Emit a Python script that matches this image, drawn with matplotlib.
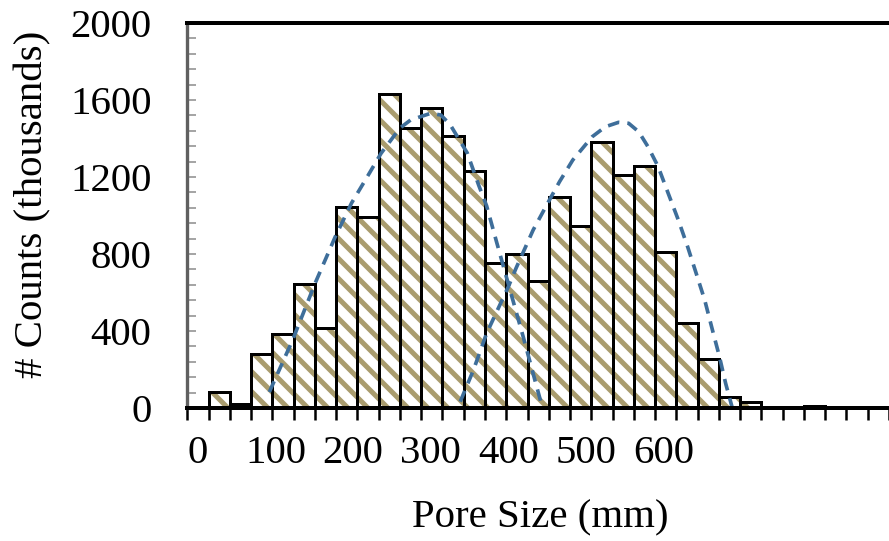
import numpy as np
import matplotlib
matplotlib.use('Agg')
import matplotlib.pyplot as plt
from matplotlib.ticker import MultipleLocator

plt.rcParams['font.family'] = ['Liberation Serif', 'DejaVu Serif']
plt.rcParams['hatch.linewidth'] = 3.0

# histogram: bin centres (pore size) and counts in thousands
bin_width = 27.4
pore_size = np.arange(33) * bin_width
counts = [0, 85, 20, 281, 384, 643, 414, 1046, 994, 1630,
          1453, 1560, 1413, 1231, 755, 800, 660, 1098, 947, 1380,
          1210, 1259, 812, 440, 256, 59, 30, 0, 0, 10,
          0, 0, 0]

# the two fitted curves
fit1_x = [92, 122, 151, 177, 198, 217, 236, 260, 274, 300,
          313, 325, 347, 362, 372, 385, 402, 419, 434, 444]
fit1_y = [83, 353, 648, 890, 1065, 1193, 1323, 1453, 1496, 1531,
          1522, 1472, 1325, 1155, 1050, 860, 615, 372, 148, 0]

fit2_x = [338, 355, 372, 400, 410, 432, 453, 466, 483, 508, 525, 542, 555,
          568, 580, 593, 606, 619, 631, 642, 653, 663, 672, 680, 691]
fit2_y = [33, 197, 388, 630, 727, 925, 1081, 1176, 1288, 1409, 1461, 1484, 1479,
          1435, 1357, 1254, 1115, 977, 838, 700, 561, 405, 267, 128, -36]

x_labels = [0, 100, 200, 300, 400, 500, 600]

tan = '#A99C6E'
blue = '#3E6E9A'

W, H, DPI = 889, 541, 120
fig = plt.figure(figsize=(W / DPI, H / DPI), dpi=DPI)
ax = fig.add_axes([187.3 / W, 133 / H, (W - 187.3) / W, 385 / H])

# hatched fill, then black outlines on top
ax.bar(pore_size, counts, width=bin_width, color='white', edgecolor=tan,
       hatch='\\\\', linewidth=0, zorder=1)
ax.bar(pore_size, counts, width=bin_width, fill=False, edgecolor='black',
       linewidth=1.8, zorder=1.5)

ax.plot(fit1_x, fit1_y, color=blue, lw=2.2, ls=(0, (3.2, 2.2)), zorder=2, clip_on=False)
ax.plot(fit2_x, fit2_y, color=blue, lw=2.2, ls=(0, (3.2, 2.2)), zorder=2, clip_on=False)

ax.set_xlim(-bin_width / 2, (W - 198) / 21.5 * bin_width)
ax.set_ylim(0, 2000)

edges = np.arange(34) * bin_width - bin_width / 2
ax.set_xticks(x_labels)
ax.set_xticklabels([str(v) for v in x_labels])
ax.set_xticks(edges, minor=True)
ax.tick_params(axis='x', which='major', length=0, pad=16, labelsize=24.5)
ax.tick_params(axis='x', which='minor', direction='out', length=7.2,
               width=1.5, color='black')

ax.yaxis.set_major_locator(MultipleLocator(400))
ax.yaxis.set_minor_locator(MultipleLocator(80))
ax.tick_params(axis='y', which='both', direction='in', length=5.4,
               width=1.2, color='#A6A6A6')
ax.tick_params(axis='y', which='major', labelsize=24.5, pad=21.5)

ax.spines['right'].set_visible(False)
ax.spines['top'].set_linewidth(2.4)
ax.spines['bottom'].set_linewidth(2.4)
ax.spines['left'].set_linewidth(2.0)
ax.spines['left'].set_color('#606060')

fig.text(33 / W, 1 - 204 / H, '# Counts (thousands)', rotation=90,
         ha='center', va='center', fontsize=24.5)
fig.text(540 / W, 1 - 518 / H, 'Pore Size (mm)', ha='center', va='center',
         fontsize=24.5)

fig.savefig('out.png', dpi=DPI)
